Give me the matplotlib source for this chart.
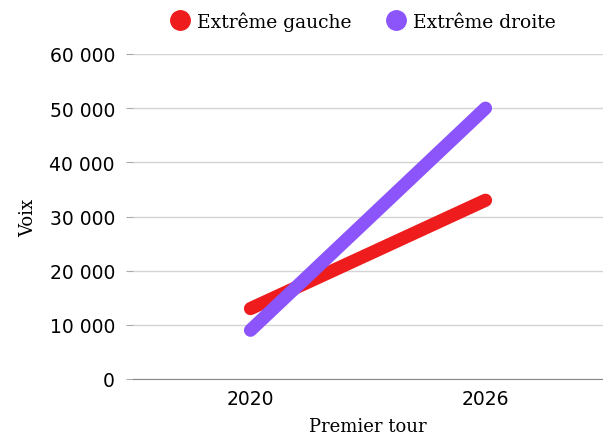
import matplotlib.pyplot as plt
from matplotlib.ticker import FuncFormatter

# Données
tours = ['2020', '2026']
extreme_gauche = [13000, 33000]
extreme_droite = [9000, 50000]
yticks = [0, 10000, 20000, 30000, 40000, 50000, 60000]

rouge = '#ee1c1c'
violet = '#8b55fb'

fig = plt.figure(figsize=(6.03, 4.39), dpi=100)
ax = fig.add_axes([133 / 603, 1 - 380 / 439, 470 / 603, 325 / 439])

x = range(len(tours))
ax.plot(x, extreme_gauche, color=rouge, lw=9.5, solid_capstyle='round', label='Extrême gauche')
ax.plot(x, extreme_droite, color=violet, lw=9.5, solid_capstyle='round', label='Extrême droite')

ax.set_xlim(-0.5, 1.5)
ax.set_ylim(0, 60000)
ax.set_xticks(list(x))
ax.set_xticklabels(tours)
ax.set_yticks(yticks)
ax.yaxis.set_major_formatter(FuncFormatter(lambda v, p: f'{int(v):,}'.replace(',', ' ')))

ax.grid(axis='y', color='#d4d4d4', lw=1)
ax.set_axisbelow(True)
for s in ['top', 'right', 'left']:
    ax.spines[s].set_visible(False)
ax.spines['bottom'].set_color('#888888')
ax.tick_params(axis='y', length=5, color='#aaaaaa', pad=8, labelsize=13.5)
ax.tick_params(axis='x', length=0, pad=7, labelsize=13.5)
for lab in ax.get_xticklabels() + ax.get_yticklabels():
    lab.set_family('DejaVu Sans')

ax.set_xlabel('Premier tour', family='DejaVu Serif', fontsize=13, labelpad=7)
ax.set_ylabel('Voix', family='DejaVu Serif', fontsize=13, labelpad=9)

leg = ax.legend(loc='lower center', bbox_to_anchor=(0.5, 1.02), ncol=2, frameon=False,
                handlelength=0, handletextpad=0.9, columnspacing=2.4,
                prop={'family': 'DejaVu Serif', 'size': 13.5})
for h in leg.legend_handles:
    h.set_marker('o')
    h.set_markersize(14)
    h.set_linestyle('')

fig.savefig('out.png', dpi=100)
